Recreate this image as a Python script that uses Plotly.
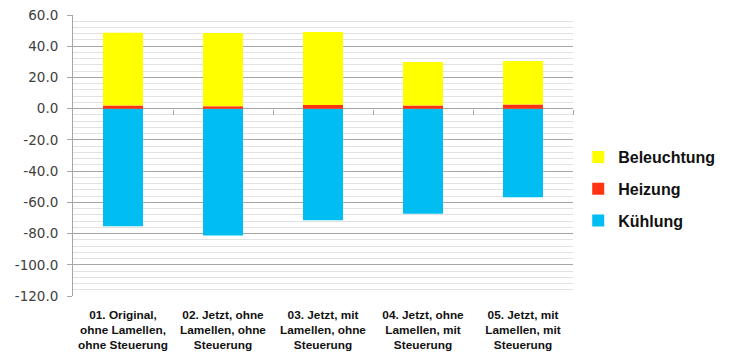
import plotly.graph_objects as go

# Scenario names (category axis)
categories = [
    "01. Original,<br>ohne Lamellen,<br>ohne Steuerung",
    "02. Jetzt, ohne<br>Lamellen, ohne<br>Steuerung",
    "03. Jetzt, mit<br>Lamellen, ohne<br>Steuerung",
    "04. Jetzt, ohne<br>Lamellen, mit<br>Steuerung",
    "05. Jetzt, mit<br>Lamellen, mit<br>Steuerung",
]

# Energy components per scenario
beleuchtung = [46.6, 47.0, 46.8, 27.9, 27.8]
heizung = [2.1, 1.5, 2.3, 2.0, 2.7]
kuehlung = [-75.3, -81.2, -71.4, -67.3, -56.7]

# Value axis ticks
y_tickvals = [60, 40, 20, 0, -20, -40, -60, -80, -100, -120]
y_ticktext = ["60.0", "40.0", "20.0", "0.0", "-20.0", "-40.0", "-60.0",
              "-80.0", "-100.0", "-120.0"]

colors = {"Beleuchtung": "#FFFF00", "Heizung": "#FF3311", "Kühlung": "#00BEF2"}

fig = go.Figure()
fig.add_trace(go.Bar(x=categories, y=kuehlung, name="Kühlung",
                     marker=dict(color=colors["Kühlung"], line_width=0),
                     legendgroup="k", legendrank=3))
fig.add_trace(go.Bar(x=categories, y=heizung, name="Heizung",
                     marker=dict(color=colors["Heizung"], line_width=0),
                     legendgroup="h", legendrank=2))
fig.add_trace(go.Bar(x=categories, y=beleuchtung, name="Beleuchtung",
                     marker=dict(color=colors["Beleuchtung"], line_width=0),
                     legendgroup="b", legendrank=1))

fig.update_layout(
    width=731, height=358,
    margin=dict(l=73, r=158, t=15, b=62, autoexpand=False),
    paper_bgcolor="white", plot_bgcolor="white",
    barmode="relative",
    bargap=0.6,
    showlegend=True,
    legend=dict(
        traceorder="grouped",
        tracegroupgap=8,
        xref="container", yref="container",
        x=0.791, xanchor="left", y=0.472, yanchor="middle",
        font=dict(family="Liberation Sans, Arial, sans-serif", size=16,
                  color="#111111", weight="bold"),
        itemwidth=30,
        bgcolor="rgba(0,0,0,0)",
    ),
    xaxis=dict(
        type="category",
        range=[-0.5, 4.5],
        automargin=False,
        showgrid=False, showline=False, zeroline=False,
        ticks="",
        tickfont=dict(family="Liberation Sans, Arial, sans-serif", size=11.8,
                      color="#111111", weight="bold"),
        ticklabelstandoff=10,
    ),
    # category boundary ticks along the zero line
    xaxis2=dict(
        overlaying="x", anchor="free", position=120 / 180,
        range=[-0.5, 4.5], automargin=False,
        tickmode="array", tickvals=[0.5, 1.5, 2.5, 3.5, 4.5],
        ticks="outside", ticklen=5, tickcolor="#a6a6a6", tickwidth=1,
        showticklabels=False, showgrid=False, showline=False, zeroline=False,
    ),
    yaxis=dict(
        range=[-120, 60],
        automargin=False,
        tickmode="array", tickvals=y_tickvals, ticktext=y_ticktext,
        showgrid=True, gridcolor="#a6a6a6", gridwidth=1,
        zeroline=False,
        showline=True, linecolor="#a6a6a6", linewidth=1,
        ticks="outside", ticklen=5, tickcolor="#a6a6a6",
        tickfont=dict(family="DejaVu Sans, sans-serif", size=13.5,
                      color="#404040"),
        ticklabelstandoff=6,
        minor=dict(dtick=4, tick0=0, showgrid=True, gridcolor="#e2e2e2",
                   gridwidth=1, ticks=""),
    ),
)

# invisible trace so the overlay axis is rendered
fig.add_trace(go.Scatter(x=[0], y=[0], xaxis="x2", mode="markers",
                         marker=dict(opacity=0), showlegend=False,
                         hoverinfo="skip"))

fig.write_html("out.html")
